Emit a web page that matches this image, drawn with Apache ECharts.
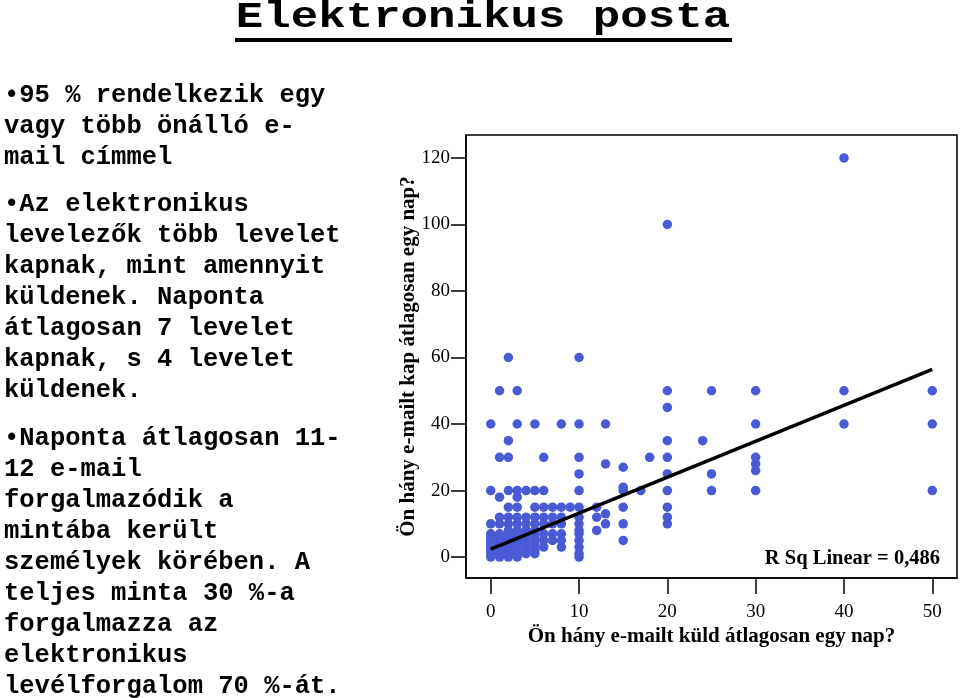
<!DOCTYPE html>
<html><head><meta charset="utf-8">
<script src="https://cdn.jsdelivr.net/npm/echarts@6/dist/echarts.min.js"></script>
<style>html,body{margin:0;padding:0;background:#fff}#c{width:960px;height:698px}</style>
</head><body><div id="c"></div>
<script>
// ---- text ----
const titleText = 'Elektronikus posta';
const para1 = ['\u202295 % rendelkezik egy', 'vagy több önálló e-', 'mail címmel'];
const para2 = ['\u2022Az elektronikus', 'levelezők több levelet', 'kapnak, mint amennyit', 'küldenek. Naponta', 'átlagosan 7 levelet', 'kapnak, s 4 levelet', 'küldenek.'];
const para3 = ['\u2022Naponta átlagosan 11-', '12 e-mail', 'forgalmazódik a', 'mintába került', 'személyek körében. A', 'teljes minta 30 %-a', 'forgalmazza az', 'elektronikus', 'levélforgalom 70 %-át.'];
const xName = 'Ön hány e-mailt küld átlagosan egy nap?';
const yName = 'Ön hány e-mailt kap átlagosan egy nap?';
const rSqLabel = 'R Sq Linear = 0,486';

// ---- ticks ----
const xTicks = [0, 10, 20, 30, 40, 50];
const yTicks = [0, 20, 40, 60, 80, 100, 120];

// ---- data: e-mails sent (x) and received (y) per respondent ----
const sent = [
  0,0,0,0,0,0,0,0,0,0,0,
  1,1,1,1,1,1,1,1,1,1,1,1,1,
  2,2,2,2,2,2,2,2,2,2,2,2,2,2,2,2,
  3,3,3,3,3,3,3,3,3,3,3,3,3,3,3,3,
  4,4,4,4,4,4,4,4,4,4,4,
  5,5,5,5,5,5,5,5,5,5,5,5,5,
  6,6,6,6,6,6,6,6,
  7,7,7,7,7,
  8,8,8,8,8,8,8,
  9,
  10,10,10,10,10,10,10,10,10,10,10,10,10,10,
  12,12,12,
  13,13,13,13,
  15,15,15,15,15,15,
  17,
  18,
  20,20,20,20,20,20,20,20,20,20,
  24,
  25,25,25,
  30,30,30,30,30,30,
  40,40,40,
  50,50,50
];
const received = [
  0,1,2,3,4,5,6,7,10,20,40,
  0,1,2,3,4,5,6,7,10,12,18,30,50,
  0,1,2,3,4,5,6,7,8,10,12,15,20,30,35,60,
  0,1,2,3,4,5,6,7,8,10,12,15,18,20,40,50,
  1,2,3,4,5,6,7,8,10,12,20,
  1,2,3,4,5,6,7,8,10,12,15,20,40,
  3,5,7,10,12,15,20,30,
  5,7,10,12,15,
  3,5,7,10,12,15,40,
  15,
  0,1,3,5,7,8,10,12,15,20,25,30,40,60,
  8,12,15,
  10,13,28,40,
  5,10,15,20,21,27,
  20,
  30,
  10,12,15,20,25,30,35,45,50,100,
  35,
  20,25,50,
  20,26,28,30,40,50,
  40,50,120,
  20,40,50
];
// linear fit
const fitIntercept = 2.4;
const fitSlope = 1.08;
const fitRange = [0, 50];

const points = sent.map((s, i) => [s, received[i]]);
const fitLine = fitRange.map(x => [x, fitIntercept + fitSlope * x]);

const chart = echarts.init(document.getElementById('c'), null, {renderer: 'canvas'});
const monoBold = 'bold 25.5px "Liberation Mono", "Courier New", monospace';
const serif = '"Liberation Serif", "Times New Roman", serif';

chart.setOption({
  backgroundColor: '#ffffff',
  animation: false,
  grid: {
    left: 466, top: 135, width: 491, height: 443,
    show: true, borderColor: '#000', borderWidth: 1.5,
    containLabel: false, outerBoundsMode: 'none'
  },
  xAxis: {
    type: 'value', min: -2.8, max: 52.8,
    splitLine: {show: false},
    axisLine: {show: true, onZero: false, lineStyle: {color: '#000', width: 1.5}},
    axisTick: {show: true, length: 16, lineStyle: {color: '#000', width: 1.5}, customValues: xTicks},
    axisLabel: {show: true, margin: 25, color: '#000', fontFamily: serif, fontSize: 19, customValues: xTicks},
    name: xName, nameLocation: 'middle', nameGap: 48, nameMoveOverlap: false,
    nameTextStyle: {color: '#000', fontFamily: serif, fontSize: 21, fontWeight: 'bold'}
  },
  yAxis: {
    type: 'value', min: -6.3, max: 126.9,
    splitLine: {show: false},
    axisLine: {show: true, onZero: false, lineStyle: {color: '#000', width: 1.5}},
    axisTick: {show: true, length: 15, lineStyle: {color: '#000', width: 1.5}, customValues: yTicks},
    axisLabel: {show: true, margin: 16, color: '#000', fontFamily: serif, fontSize: 19, customValues: yTicks},
    name: yName, nameLocation: 'middle', nameGap: 47, nameRotate: 90, nameMoveOverlap: false,
    nameTextStyle: {color: '#000', fontFamily: serif, fontSize: 21, fontWeight: 'bold'}
  },
  series: [
    {
      type: 'scatter', data: points, symbol: 'circle', symbolSize: 9.5,
      itemStyle: {color: '#4a59d4', opacity: 1}, z: 2
    },
    {
      type: 'line', data: fitLine, symbol: 'none', z: 3,
      lineStyle: {color: '#000', width: 3.5}
    }
  ],
  graphic: [
    {type: 'text', x: 483, y: 17.5, scaleX: 1.04, scaleY: 0.86, z: 10,
     style: {text: titleText, font: 'bold 44px "Liberation Mono", "Courier New", monospace', fill: '#000', align: 'center', verticalAlign: 'middle'}},
    {type: 'rect', shape: {x: 235, y: 38, width: 497, height: 4}, style: {fill: '#000'}},
    {type: 'text', x: 4, y: 80, style: {text: para1.join('\n'), font: monoBold, fill: '#000', lineHeight: 31, verticalAlign: 'top'}},
    {type: 'text', x: 4, y: 189, style: {text: para2.join('\n'), font: monoBold, fill: '#000', lineHeight: 31, verticalAlign: 'top'}},
    {type: 'text', x: 4, y: 423, style: {text: para3.join('\n'), font: monoBold, fill: '#000', lineHeight: 31, verticalAlign: 'top'}},
    {type: 'text', x: 940, y: 559, style: {text: rSqLabel, font: 'bold 20.5px ' + serif, fill: '#000', align: 'right', verticalAlign: 'middle'}}
  ]
});
</script>
</body></html>
